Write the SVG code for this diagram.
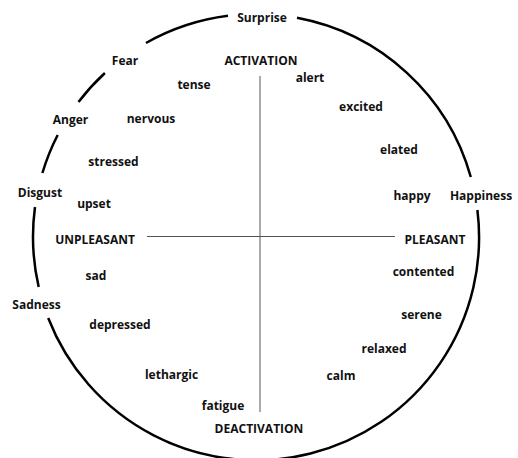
<svg xmlns="http://www.w3.org/2000/svg" width="518" height="458" viewBox="0 0 518 458">
<style>
text{font-family:"Open Sans","Noto Sans","Liberation Sans",sans-serif;font-weight:bold;font-size:12px;fill:#111;text-anchor:middle}
.arc{fill:none;stroke:#000;stroke-width:2.5}
.axis{fill:none;stroke:#555;stroke-width:1}
</style>
<rect width="518" height="458" fill="#fff"/>
<g id="connectors">
<path class="arc" d="M297,17.8 A223,223 0 0 1 470.8,177"/>
<path class="arc" d="M477.4,210 A223,223 0 0 1 48.2,318"/>
<path class="arc" d="M38.7,287 A223,223 0 0 1 35,207"/>
<path class="arc" d="M42.4,173 A223,223 0 0 1 57.7,135"/>
<path class="arc" d="M78.5,102 A223,223 0 0 1 104.9,73"/>
<path class="arc" d="M146,43 A223,223 0 0 1 228,15.8"/>
<line class="axis" x1="260" y1="76" x2="260" y2="412"/>
<line class="axis" x1="147" y1="236.5" x2="395" y2="236.5"/>
</g>
<g id="emotions">
<g id="surprise"><text x="262" y="22">Surprise</text></g>
<g id="fear"><text x="125" y="65">Fear</text></g>
<g id="anger"><text x="70.5" y="124">Anger</text></g>
<g id="disgust"><text x="40" y="197">Disgust</text></g>
<g id="sadness"><text x="36.5" y="309">Sadness</text></g>
<g id="happiness"><text x="481" y="200">Happiness</text></g>
</g>
<g id="poles">
<g id="activation"><text x="261" y="65">ACTIVATION</text></g>
<g id="deactivation"><text x="259" y="433">DEACTIVATION</text></g>
<g id="unpleasant"><text x="95" y="244">UNPLEASANT</text></g>
<g id="pleasant"><text x="435" y="244">PLEASANT</text></g>
</g>
<g id="states">
<g id="tense"><text x="194" y="89">tense</text></g>
<g id="nervous"><text x="151" y="123">nervous</text></g>
<g id="stressed"><text x="113.5" y="166">stressed</text></g>
<g id="upset"><text x="94" y="208">upset</text></g>
<g id="alert"><text x="310" y="82">alert</text></g>
<g id="excited"><text x="361" y="111">excited</text></g>
<g id="elated"><text x="399" y="154">elated</text></g>
<g id="happy"><text x="412" y="200">happy</text></g>
<g id="sad"><text x="96" y="280">sad</text></g>
<g id="depressed"><text x="120" y="329">depressed</text></g>
<g id="lethargic"><text x="171.5" y="379">lethargic</text></g>
<g id="fatigue"><text x="223" y="410">fatigue</text></g>
<g id="contented"><text x="423.5" y="276">contented</text></g>
<g id="serene"><text x="421.5" y="319">serene</text></g>
<g id="relaxed"><text x="384" y="353">relaxed</text></g>
<g id="calm"><text x="341" y="380">calm</text></g>
</g>
</svg>
